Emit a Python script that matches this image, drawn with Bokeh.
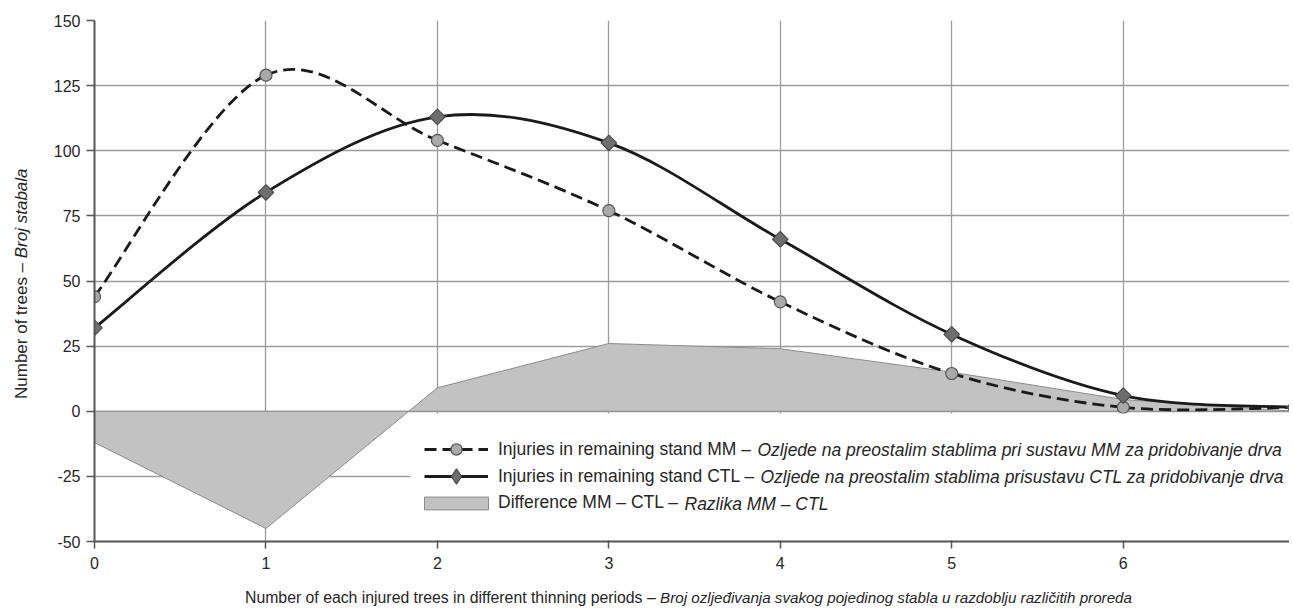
import math
from bokeh.plotting import figure
from bokeh.models import (Legend, LegendItem, Label, FixedTicker, ColumnDataSource, Range1d,
                          Div, BoxAnnotation)
from bokeh.layouts import column, row
from bokeh.embed import file_html
from bokeh.resources import INLINE

# ---- data ----
x_vals = [0, 1, 2, 3, 4, 5, 6, 7]
mm_vals = [44, 129, 104, 77, 42, 14.5, 1.5, 1.5]
ctl_vals = [32, 84, 113, 103, 66, 29.5, 6, 1.5]
diff_vals = [-12, -45, 9, 26, 24, 15, 4.5, 0]
x_ticks = [0, 1, 2, 3, 4, 5, 6]
y_ticks = [-50, -25, 0, 25, 50, 75, 100, 125, 150]
y_tick_labels = ["-50", "-25", "0", "25", "50", "75", "100", "125", "150"]

legend_mm = "Injuries in remaining stand MM \u2013 "
legend_mm_it = "Ozljede na preostalim stablima pri sustavu MM za pridobivanje drva"
legend_ctl = "Injuries in remaining stand CTL \u2013 "
legend_ctl_it = "Ozljede na preostalim stablima prisustavu CTL za pridobivanje drva"
legend_diff = "Difference MM \u2013 CTL \u2013 "
legend_diff_it = "Razlika MM \u2013 CTL"
x_title = "Number of each injured trees in different thinning periods \u2013 "
x_title_it = "Broj ozlje\u0111ivanja svakog pojedinog stabla u razdoblju razli\u010ditih proreda"
y_title = "Number of trees \u2013 "
y_title_it = "Broj stabala"

FONT = "Liberation Sans"
TXT = "#262626"
LEG_FS = "17.5px"


def smooth_segments(xs, ys):
    n = len(xs)
    d = dict(x0=[], y0=[], x1=[], y1=[], cx0=[], cy0=[], cx1=[], cy1=[])
    for i in range(n - 1):
        i0 = max(i - 1, 0)
        i3 = min(i + 2, n - 1)
        d["x0"].append(xs[i]); d["y0"].append(ys[i])
        d["x1"].append(xs[i + 1]); d["y1"].append(ys[i + 1])
        d["cx0"].append(xs[i] + (xs[i + 1] - xs[i0]) / 6)
        d["cy0"].append(ys[i] + (ys[i + 1] - ys[i0]) / 6)
        d["cx1"].append(xs[i + 1] - (xs[i3] - xs[i]) / 6)
        d["cy1"].append(ys[i + 1] - (ys[i3] - ys[i]) / 6)
    return ColumnDataSource(d)


p = figure(width=1249, height=575, output_backend="svg", toolbar_location=None,
           x_range=Range1d(0, 6.97), y_range=Range1d(-50, 150),
           min_border_left=54, min_border_right=0, min_border_top=20, min_border_bottom=34)
p.outline_line_color = None
p.background_fill_color = "white"
p.border_fill_color = "white"

for ax in (p.xaxis[0], p.yaxis[0]):
    ax.axis_line_color = "#555555"
    ax.axis_line_width = 2
    ax.major_tick_line_color = "#555555"
    ax.major_tick_line_width = 1.5
    ax.minor_tick_line_color = None
    ax.major_tick_in = 0
    ax.major_label_text_font = FONT
    ax.major_label_text_font_size = "16px"
    ax.major_label_text_color = TXT
p.xaxis.ticker = FixedTicker(ticks=x_ticks)
p.yaxis.ticker = FixedTicker(ticks=y_ticks)
p.yaxis.major_label_overrides = dict(zip(y_ticks, y_tick_labels))
p.xaxis.major_tick_out = 7
p.xaxis.major_label_standoff = 8
p.yaxis.major_tick_out = 8
p.yaxis.major_label_standoff = 6

p.xgrid.ticker = FixedTicker(ticks=x_ticks)
p.ygrid.ticker = FixedTicker(ticks=y_ticks)
for g in (p.xgrid[0], p.ygrid[0]):
    g.grid_line_color = "#9c9c9c"
    g.grid_line_width = 1.3

# difference area
patch_x = x_vals + x_vals[::-1]
patch_y = diff_vals + [0] * len(x_vals)
area = p.patch(patch_x, patch_y, fill_color="#c2c2c2", line_color="#8c8c8c", line_width=1)

mm_src = smooth_segments(x_vals, mm_vals)
mm_line = p.bezier(x0="x0", y0="y0", x1="x1", y1="y1", cx0="cx0", cy0="cy0", cx1="cx1", cy1="cy1",
                   source=mm_src, line_color="#1a1a1a", line_width=2.8, line_dash="12 6")
ctl_src = smooth_segments(x_vals, ctl_vals)
ctl_line = p.bezier(x0="x0", y0="y0", x1="x1", y1="y1", cx0="cx0", cy0="cy0", cx1="cx1", cy1="cy1",
                    source=ctl_src, line_color="#1a1a1a", line_width=2.8)

mm_pts = p.scatter(x_vals, mm_vals, marker="circle", size=12, fill_color="#a9a9a9",
                   line_color="#555555", line_width=1.2)
ctl_pts = p.scatter(x_vals, ctl_vals, marker="square", angle=math.pi / 4, size=11,
                    fill_color="#6e6e6e", line_color="#4a4a4a", line_width=1.2)
# diamond-shaped marker used only for the legend key
ctl_key = p.scatter(x_vals, ctl_vals, marker="diamond", size=16, fill_color="#6e6e6e",
                    line_color="#4a4a4a", line_width=1.2, visible=False)

# white legend background region (hides the grid below the zero line)
p.add_layout(BoxAnnotation(left=316, right=1300, bottom=1.5, top=128,
                           left_units="screen", right_units="screen",
                           bottom_units="screen", top_units="screen",
                           fill_color="white", fill_alpha=1.0, line_color=None))


def make_legend(label, renderers, loc, gw, gh, standoff):
    lg = Legend(items=[LegendItem(label=label, renderers=renderers)], location=loc)
    lg.glyph_width = gw
    lg.glyph_height = gh
    lg.label_height = 20
    lg.label_standoff = standoff
    lg.padding = 0
    lg.spacing = 0
    lg.margin = 0
    lg.border_line_color = None
    lg.background_fill_alpha = 0.0
    lg.label_text_font = FONT
    lg.label_text_font_size = LEG_FS
    lg.label_text_color = TXT
    p.add_layout(lg, "center")


make_legend(legend_mm, [mm_line, mm_pts], (330, 78), 64, 28, 10)
make_legend(legend_ctl, [ctl_line, ctl_key], (330, 46), 64, 38, 10)
make_legend(legend_diff, [area], (322, 28), 80, 16, 2)


def lab(text, x, y):
    p.add_layout(Label(x=x, y=y, x_units="screen", y_units="screen", text=text,
                       text_font=FONT, text_font_size=LEG_FS, text_color=TXT,
                       text_font_style="italic", text_align="left", text_baseline="middle",
                       level="overlay"))


lab(legend_mm_it, 663, 92)
lab(legend_ctl_it, 666, 65)
lab(legend_diff_it, 590, 38)

FONT_CSS = "font-family:'Liberation Sans',Arial,sans-serif;color:%s;white-space:nowrap;" % TXT

ydiv = Div(width=30, height=575, text=(
    '<div style="margin-top:394px;margin-left:8px;width:400px;transform:rotate(-90deg);'
    'transform-origin:0 0;font-size:17px;line-height:17px;%s">%s<i>%s</i></div>'
    % (FONT_CSS, y_title, y_title_it)))

xdiv = Div(width=1288, height=31, text=(
    '<div style="padding-top:0px;padding-left:240px;font-size:15.8px;line-height:16px;%s">'
    '%s<i style="font-size:15.2px;">%s</i></div>' % (FONT_CSS, x_title, x_title_it)))

layout = column(row(ydiv, p), xdiv)

open("out.html", "w").write(file_html(layout, INLINE))
